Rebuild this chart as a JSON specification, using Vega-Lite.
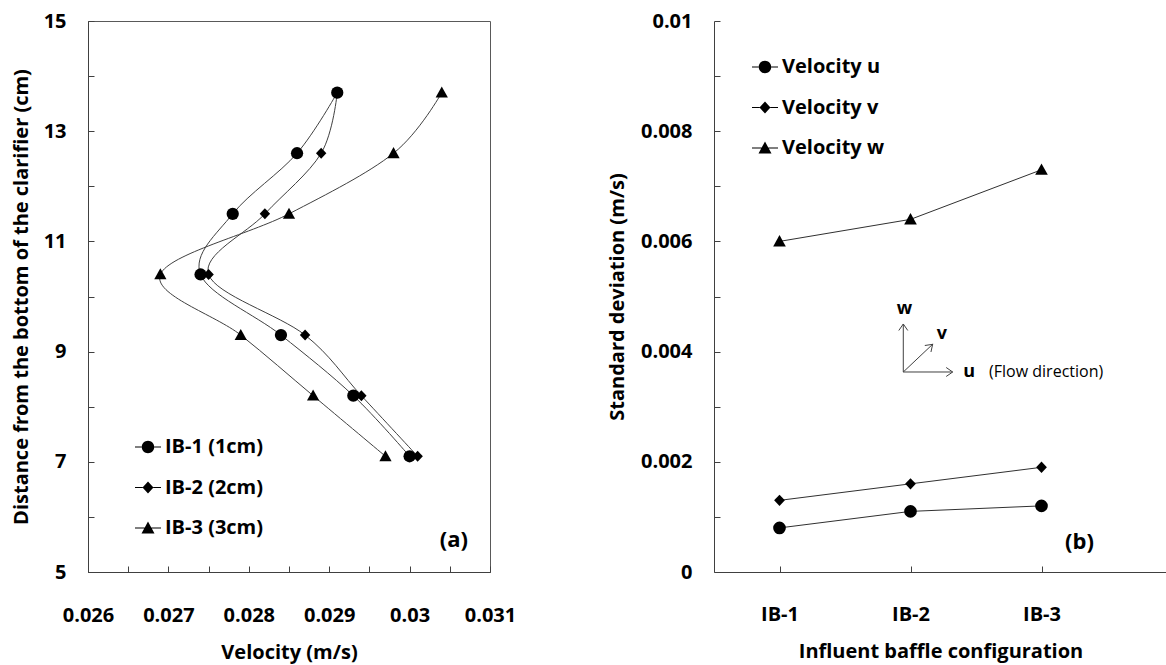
{
  "$schema": "https://vega.github.io/schema/vega-lite/v6.json",
  "background": "white",
  "padding": {"left": 10, "top": 10, "right": 0, "bottom": 2},
  "datasets": {
    "profile": [
      {"cfg": "IB-1 (1cm)", "h": 13.7, "v": 0.0291},
      {"cfg": "IB-1 (1cm)", "h": 12.6, "v": 0.0286},
      {"cfg": "IB-1 (1cm)", "h": 11.5, "v": 0.0278},
      {"cfg": "IB-1 (1cm)", "h": 10.4, "v": 0.0274},
      {"cfg": "IB-1 (1cm)", "h": 9.3, "v": 0.0284},
      {"cfg": "IB-1 (1cm)", "h": 8.2, "v": 0.0293},
      {"cfg": "IB-1 (1cm)", "h": 7.1, "v": 0.0300},
      {"cfg": "IB-2 (2cm)", "h": 13.7, "v": 0.0291},
      {"cfg": "IB-2 (2cm)", "h": 12.6, "v": 0.0289},
      {"cfg": "IB-2 (2cm)", "h": 11.5, "v": 0.0282},
      {"cfg": "IB-2 (2cm)", "h": 10.4, "v": 0.0275},
      {"cfg": "IB-2 (2cm)", "h": 9.3, "v": 0.0287},
      {"cfg": "IB-2 (2cm)", "h": 8.2, "v": 0.0294},
      {"cfg": "IB-2 (2cm)", "h": 7.1, "v": 0.0301},
      {"cfg": "IB-3 (3cm)", "h": 13.7, "v": 0.0304},
      {"cfg": "IB-3 (3cm)", "h": 12.6, "v": 0.0298},
      {"cfg": "IB-3 (3cm)", "h": 11.5, "v": 0.0285},
      {"cfg": "IB-3 (3cm)", "h": 10.4, "v": 0.0269},
      {"cfg": "IB-3 (3cm)", "h": 9.3, "v": 0.0279},
      {"cfg": "IB-3 (3cm)", "h": 8.2, "v": 0.0288},
      {"cfg": "IB-3 (3cm)", "h": 7.1, "v": 0.0297}
    ],
    "sdev": [
      {"series": "Velocity u", "cfg": 1, "sd": 0.0008},
      {"series": "Velocity u", "cfg": 2, "sd": 0.0011},
      {"series": "Velocity u", "cfg": 3, "sd": 0.0012},
      {"series": "Velocity v", "cfg": 1, "sd": 0.0013},
      {"series": "Velocity v", "cfg": 2, "sd": 0.0016},
      {"series": "Velocity v", "cfg": 3, "sd": 0.0019},
      {"series": "Velocity w", "cfg": 1, "sd": 0.0060},
      {"series": "Velocity w", "cfg": 2, "sd": 0.0064},
      {"series": "Velocity w", "cfg": 3, "sd": 0.0073}
    ],
    "arrows": [
      {"axis": "u", "cfg": 1.945, "sd": 0.00363, "cfg2": 2.322, "sd2": 0.00363},
      {"axis": "v", "cfg": 1.945, "sd": 0.00363, "cfg2": 2.169, "sd2": 0.004133},
      {"axis": "w", "cfg": 1.945, "sd": 0.00363, "cfg2": 1.945, "sd2": 0.004501}
    ],
    "heads": [
      {"axis": "u", "cfg": 2.322, "sd": 0.00363},
      {"axis": "v", "cfg": 2.169, "sd": 0.004133},
      {"axis": "w", "cfg": 1.945, "sd": 0.004501}
    ],
    "letters": [
      {"label": "w", "cfg": 1.953, "sd": 0.004773},
      {"label": "v", "cfg": 2.24, "sd": 0.004319},
      {"label": "u", "cfg": 2.447, "sd": 0.00363}
    ],
    "note": [
      {"label": "(Flow direction)", "cfg": 2.6, "sd": 0.00363}
    ]
  },
  "spacing": 224,
  "bounds": "flush",
  "resolve": {
    "scale": {"shape": "independent"},
    "legend": {"shape": "independent"}
  },
  "hconcat": [
    {
      "width": 402,
      "height": 551,
      "resolve": {"scale": {"shape": "independent"}},
      "encoding": {
        "x": {
          "field": "v", "type": "quantitative",
          "scale": {"domain": [0.026, 0.031], "nice": false, "zero": false},
          "axis": {
            "title": "Velocity (m/s)",
            "values": [0.026, 0.0265, 0.027, 0.0275, 0.028, 0.0285, 0.029, 0.0295, 0.03, 0.0305, 0.031],
            "labelExpr": "abs(round(datum.value * 2000)) % 2 == 0 ? format(datum.value, '~g') : ''",
            "labelPadding": 39,
            "titlePadding": 17
          }
        },
        "y": {
          "field": "h", "type": "quantitative",
          "scale": {"domain": [5, 15], "nice": false, "zero": false},
          "axis": {
            "title": "Distance from the bottom of the clarifier (cm)",
            "values": [5, 6, 7, 8, 9, 10, 11, 12, 13, 14, 15],
            "labelExpr": "datum.value % 2 == 1 ? datum.label : ''",
            "labelPadding": 28,
            "titlePadding": 12
          }
        }
      },
      "layer": [
        {
          "data": {"name": "profile"},
          "mark": {"type": "line", "interpolate": "cardinal", "color": "#404040", "strokeWidth": 1},
          "encoding": {
            "detail": {"field": "cfg", "type": "nominal"},
            "order": {"field": "h", "type": "quantitative"}
          }
        },
        {
          "data": {"name": "profile"},
          "mark": {"type": "point", "filled": true, "color": "black", "opacity": 1, "size": 0},
          "encoding": {
            "shape": {
              "field": "cfg", "type": "nominal",
              "scale": {"domain": ["IB-1 (1cm)", "IB-2 (2cm)", "IB-3 (3cm)"], "range": [
                "M-1,-0.04L-0.47,-0.04L-0.47,0.04L-1,0.04ZM0.47,-0.04L1,-0.04L1,0.04L0.47,0.04ZM-0.48,0A0.48,0.48,0,1,0,0.48,0A0.48,0.48,0,1,0,-0.48,0Z",
                "M-1,-0.04L-0.41,-0.04L-0.41,0.04L-1,0.04ZM0.41,-0.04L1,-0.04L1,0.04L0.41,0.04ZM0,-0.46L0.42,0L0,0.46L-0.42,0Z",
                "M-1,-0.04L-0.26,-0.04L-0.26,0.04L-1,0.04ZM0.26,-0.04L1,-0.04L1,0.04L0.26,0.04ZM0,-0.5L0.5,0.42L-0.5,0.42Z"
              ]},
              "legend": {
                "title": null,
                "orient": "none",
                "legendX": 46,
                "legendY": 412,
                "padding": 0,
                "symbolSize": 676,
                "rowPadding": 16.5,
                "labelOffset": 3,
                "labelFont": "Open Sans",
                "labelFontWeight": "bold",
                "labelFontSize": 20,
                "labelColor": "black",
                "symbolFillColor": "black",
                "symbolOpacity": 1
              }
            }
          }
        },
        {
          "data": {"name": "profile"},
          "mark": {"type": "point", "filled": true, "color": "black", "opacity": 1, "size": 150},
          "encoding": {
            "shape": {
              "field": "cfg", "type": "nominal",
              "scale": {"domain": ["IB-1 (1cm)", "IB-2 (2cm)", "IB-3 (3cm)"], "range": ["circle", "M0,-0.9L0.85,0L0,0.9L-0.85,0Z", "M0,-1L1,0.8L-1,0.8Z"]},
              "legend": null
            }
          }
        },
        {
          "data": {"values": [{"tag": "(a)", "v": 0.03055, "h": 5.58}]},
          "mark": {"type": "text", "font": "Open Sans", "fontWeight": "bold", "fontSize": 22, "color": "black"},
          "encoding": {"text": {"field": "tag"}}
        }
      ]
    },
    {
      "width": 453,
      "height": 551,
      "view": {"stroke": null},
      "resolve": {"scale": {"shape": "independent"}},
      "encoding": {
        "x": {
          "field": "cfg", "type": "quantitative",
          "scale": {"domain": [0.5, 3.958], "nice": false, "zero": false},
          "axis": {
            "title": "Influent baffle configuration",
            "values": [1, 2, 3],
            "labelExpr": "'IB-' + datum.value",
            "labelPadding": 38,
            "titlePadding": 17
          }
        },
        "y": {
          "field": "sd", "type": "quantitative",
          "scale": {"domain": [0, 0.01], "nice": false, "zero": false},
          "axis": {
            "title": "Standard deviation (m/s)",
            "values": [0, 0.001, 0.002, 0.003, 0.004, 0.005, 0.006, 0.007, 0.008, 0.009, 0.01],
            "labelExpr": "abs(round(datum.value * 1000)) % 2 == 0 ? format(datum.value, '~g') : ''",
            "labelPadding": 28,
            "titlePadding": 13
          }
        }
      },
      "layer": [
        {
          "data": {"values": [{}]},
          "mark": {"type": "rule", "color": "#595959", "strokeWidth": 1},
          "encoding": {"x": {"datum": 0.5}, "x2": {"datum": 3.958}, "y": {"datum": 0.01}}
        },
        {
          "data": {"name": "sdev"},
          "mark": {"type": "line", "color": "#303030", "strokeWidth": 1},
          "encoding": {"detail": {"field": "series", "type": "nominal"}}
        },
        {
          "data": {"name": "sdev"},
          "mark": {"type": "point", "filled": true, "color": "black", "opacity": 1, "size": 0},
          "encoding": {
            "shape": {
              "field": "series", "type": "nominal",
              "scale": {"domain": ["Velocity u", "Velocity v", "Velocity w"], "range": [
                "M-1,-0.04L-0.47,-0.04L-0.47,0.04L-1,0.04ZM0.47,-0.04L1,-0.04L1,0.04L0.47,0.04ZM-0.48,0A0.48,0.48,0,1,0,0.48,0A0.48,0.48,0,1,0,-0.48,0Z",
                "M-1,-0.04L-0.41,-0.04L-0.41,0.04L-1,0.04ZM0.41,-0.04L1,-0.04L1,0.04L0.41,0.04ZM0,-0.46L0.42,0L0,0.46L-0.42,0Z",
                "M-1,-0.04L-0.26,-0.04L-0.26,0.04L-1,0.04ZM0.26,-0.04L1,-0.04L1,0.04L0.26,0.04ZM0,-0.5L0.5,0.42L-0.5,0.42Z"
              ]},
              "legend": {
                "title": null,
                "orient": "none",
                "legendX": 37,
                "legendY": 32,
                "padding": 0,
                "symbolSize": 676,
                "rowPadding": 16.5,
                "labelOffset": 3,
                "labelFont": "Open Sans",
                "labelFontWeight": "bold",
                "labelFontSize": 20,
                "labelColor": "black",
                "symbolFillColor": "black",
                "symbolOpacity": 1
              }
            }
          }
        },
        {
          "data": {"name": "sdev"},
          "mark": {"type": "point", "filled": true, "color": "black", "opacity": 1, "size": 160},
          "encoding": {
            "shape": {
              "field": "series", "type": "nominal",
              "scale": {"domain": ["Velocity u", "Velocity v", "Velocity w"], "range": ["circle", "M0,-0.9L0.85,0L0,0.9L-0.85,0Z", "M0,-1L1,0.8L-1,0.8Z"]},
              "legend": null
            }
          }
        },
        {
          "data": {"name": "arrows"},
          "mark": {"type": "rule", "color": "#404040", "strokeWidth": 1},
          "encoding": {"x2": {"field": "cfg2"}, "y2": {"field": "sd2"}}
        },
        {
          "data": {"name": "heads"},
          "transform": [{"filter": "datum.axis === 'u'"}],
          "mark": {"type": "point", "shape": "M-1.3,-0.9L0,0L-1.3,0.9", "filled": false, "stroke": "#404040", "strokeWidth": 1, "size": 100, "angle": 0, "opacity": 1}
        },
        {
          "data": {"name": "heads"},
          "transform": [{"filter": "datum.axis === 'v'"}],
          "mark": {"type": "point", "shape": "M-1.3,-0.9L0,0L-1.3,0.9", "filled": false, "stroke": "#404040", "strokeWidth": 1, "size": 100, "angle": 317, "opacity": 1}
        },
        {
          "data": {"name": "heads"},
          "transform": [{"filter": "datum.axis === 'w'"}],
          "mark": {"type": "point", "shape": "M-1.3,-0.9L0,0L-1.3,0.9", "filled": false, "stroke": "#404040", "strokeWidth": 1, "size": 100, "angle": 270, "opacity": 1}
        },
        {
          "data": {"name": "letters"},
          "mark": {"type": "text", "font": "Open Sans", "fontWeight": "bold", "fontSize": 18, "color": "black"},
          "encoding": {"text": {"field": "label"}}
        },
        {
          "data": {"name": "note"},
          "mark": {"type": "text", "font": "Open Sans", "fontWeight": "normal", "fontSize": 16, "color": "black", "align": "left"},
          "encoding": {"text": {"field": "label"}}
        },
        {
          "data": {"values": [{"tag": "(b)", "cfg": 3.29, "sd": 0.000544}]},
          "mark": {"type": "text", "font": "Open Sans", "fontWeight": "bold", "fontSize": 22, "color": "black"},
          "encoding": {"text": {"field": "tag"}}
        }
      ]
    }
  ],
  "config": {
    "font": "Open Sans",
    "view": {"stroke": "#595959", "strokeWidth": 1},
    "axis": {
      "grid": false,
      "domainColor": "#404040",
      "tickColor": "#404040",
      "tickSize": -6,
      "labelFlush": false,
      "labelOverlap": false,
      "labelFont": "Open Sans",
      "labelFontWeight": "bold",
      "labelFontSize": 20,
      "labelColor": "black",
      "titleFont": "Open Sans",
      "titleFontWeight": "bold",
      "titleFontSize": 20,
      "titleColor": "black"
    }
  }
}
